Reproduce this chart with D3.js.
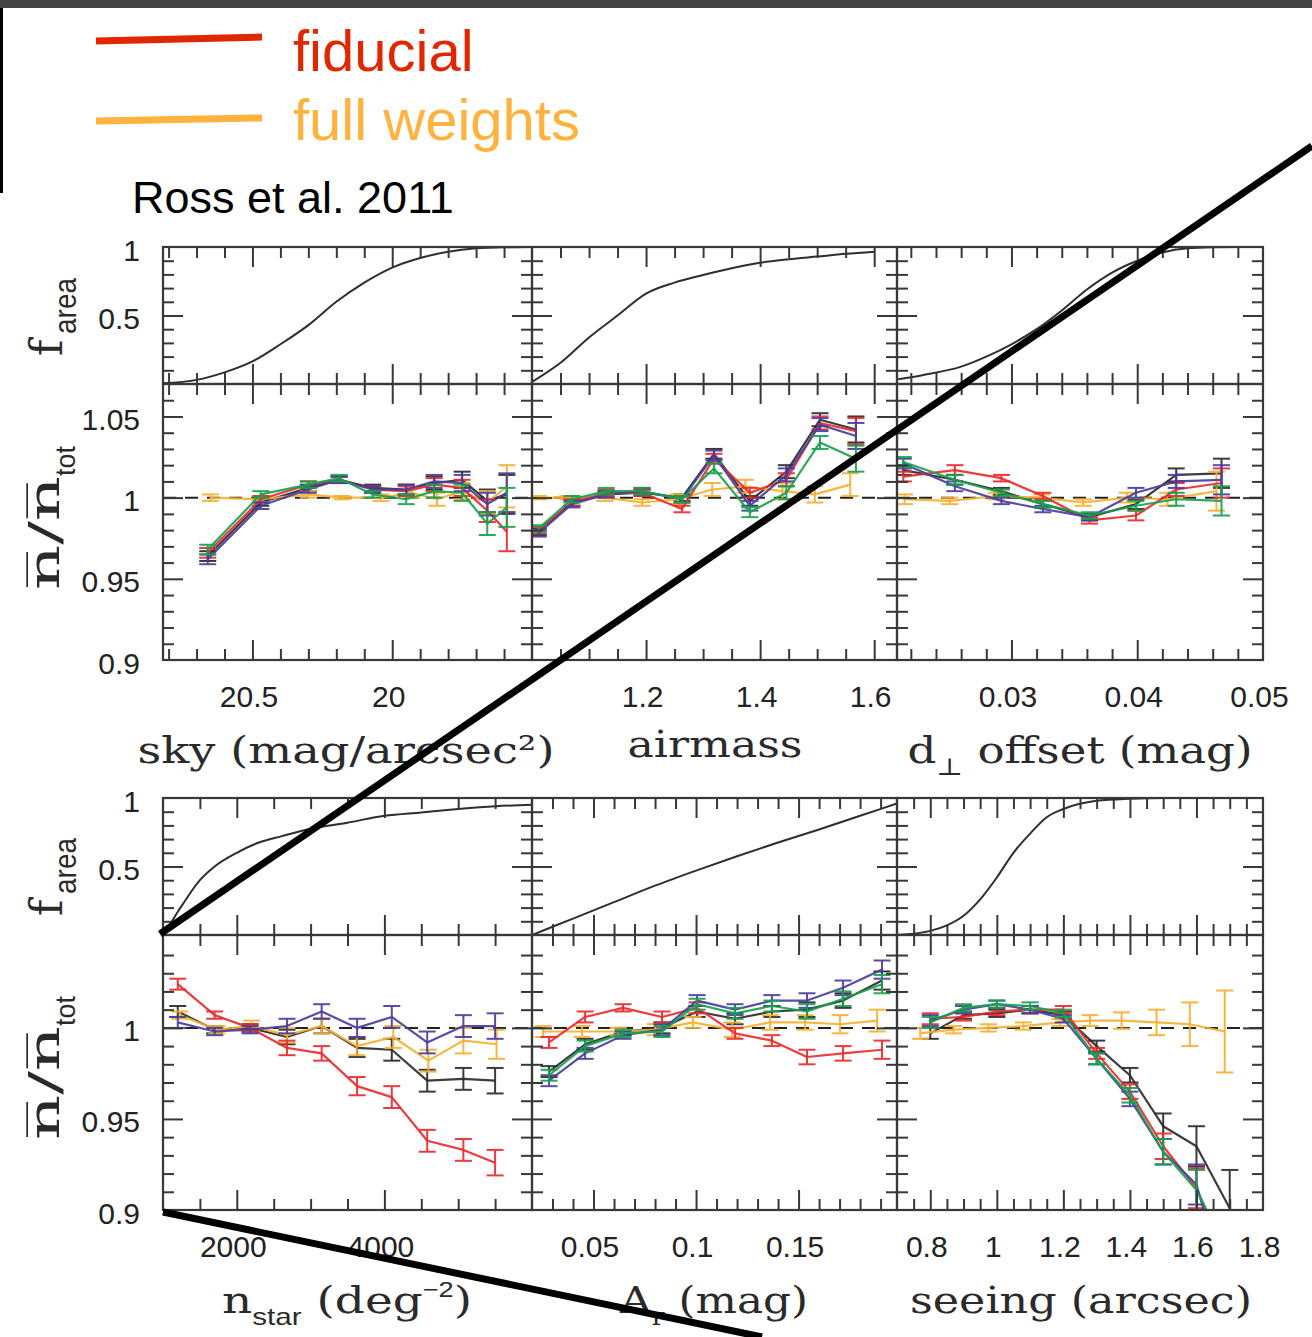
<!DOCTYPE html>
<html>
<head>
<meta charset="utf-8">
<script src="https://cdn.jsdelivr.net/npm/d3@7"></script>
<style>
  body { margin: 0; background: #fff; }
  svg { display: block; }
</style>
</head>
<body>
<svg id="chart" width="1312" height="1337"></svg>
<script>
// ---------------- data ----------------
// sky brightness (mag/arcsec^2)
const skyAreaX = [20.82, 20.7, 20.6, 20.5, 20.4, 20.3, 20.2, 20.1, 20.0, 19.9, 19.8, 19.7, 19.6, 19.5];
const skyAreaF = [0.005, 0.03, 0.085, 0.165, 0.29, 0.43, 0.6, 0.74, 0.85, 0.92, 0.965, 0.99, 0.998, 1.0];
const skyBins  = [20.66, 20.47, 20.3, 20.19, 20.07, 19.95, 19.85, 19.75, 19.66, 19.59];
const skyBlack = [0.964, 0.997, 1.006, 1.011, 1.006, 1.005, 1.009, 1.011, 0.998, 1.002];
const skyRed   = [0.966, 0.999, 1.008, 1.011, 1.005, 1.004, 1.008, 1.006, 0.992, 0.979];
const skyBlue  = [0.962, 0.995, 1.005, 1.011, 1.005, 1.005, 1.010, 1.009, 0.996, 1.003];
const skyGreen = [0.968, 1.002, 1.008, 1.012, 1.002, 0.999, 1.004, 1.003, 0.984, 0.994];
const skyErr   = [0.003, 0.002, 0.002, 0.002, 0.002, 0.003, 0.004, 0.005, 0.007, 0.012];
const skyBinsW = [20.65, 20.47, 20.3, 20.18, 20.04, 19.93, 19.84, 19.75, 19.66, 19.59];
const skyOrange = [1.000, 0.999, 1.002, 1.000, 1.000, 1.003, 0.999, 1.004, 0.997, 1.007];
const skyErrW  = [0.002, 0.002, 0.002, 0.001, 0.002, 0.003, 0.004, 0.005, 0.007, 0.013];

// airmass
const airAreaX = [1.0, 1.05, 1.1, 1.15, 1.2, 1.25, 1.3, 1.35, 1.4, 1.45, 1.5, 1.55, 1.6];
const airAreaF = [0.015, 0.155, 0.34, 0.5, 0.66, 0.74, 0.795, 0.845, 0.885, 0.91, 0.93, 0.95, 0.966];
const airBins  = [1.011, 1.07, 1.13, 1.193, 1.263, 1.319, 1.382, 1.446, 1.505, 1.568];
const airBlack = [0.979, 0.997, 1.002, 1.003, 1.000, 1.027, 0.998, 1.016, 1.048, 1.042];
const airRed   = [0.980, 0.997, 1.003, 1.003, 0.993, 1.024, 1.003, 1.011, 1.046, 1.041];
const airBlue  = [0.978, 0.996, 1.002, 1.004, 0.999, 1.026, 0.995, 1.014, 1.045, 1.038];
const airGreen = [0.981, 0.999, 1.004, 1.004, 0.999, 1.018, 0.991, 1.003, 1.034, 1.024];
const airErr   = [0.002, 0.002, 0.002, 0.002, 0.002, 0.003, 0.003, 0.004, 0.004, 0.008];
const airBinsW = [1.011, 1.063, 1.128, 1.193, 1.256, 1.316, 1.374, 1.439, 1.496, 1.558];
const airOrange = [1.000, 1.000, 1.000, 0.997, 0.999, 1.005, 1.007, 1.004, 1.002, 1.008];
const airErrW  = [0.001, 0.001, 0.002, 0.002, 0.003, 0.004, 0.004, 0.005, 0.005, 0.007];

// d_perp offset (mag)
const dpAreaX = [0.021, 0.023, 0.026, 0.028, 0.03, 0.032, 0.034, 0.036, 0.038, 0.04, 0.042, 0.044, 0.046, 0.048, 0.05];
const dpAreaF = [0.034, 0.066, 0.127, 0.2, 0.29, 0.4, 0.537, 0.69, 0.813, 0.9, 0.96, 0.99, 0.998, 1.0, 1.0];
const dpBins  = [0.0214, 0.0255, 0.0292, 0.0325, 0.0362, 0.0399, 0.0431, 0.0467];
const dpBlack = [1.017, 1.011, 1.004, 0.996, 0.988, 0.996, 1.014, 1.015];
const dpRed   = [1.013, 1.017, 1.012, 1.001, 0.986, 0.989, 1.005, 1.009];
const dpBlue  = [1.021, 1.007, 0.998, 0.993, 0.988, 1.003, 1.010, 1.011];
const dpGreen = [1.022, 1.011, 1.003, 0.996, 0.989, 0.995, 0.999, 0.998];
const dpErr   = [0.003, 0.003, 0.002, 0.002, 0.002, 0.003, 0.004, 0.009];
const dpBinsW = [0.0215, 0.0251, 0.0288, 0.0324, 0.0357, 0.0392, 0.0424, 0.0463];
const dpOrange = [0.999, 0.998, 1.001, 1.000, 0.997, 1.000, 0.999, 1.004];
const dpErrW  = [0.003, 0.002, 0.002, 0.002, 0.002, 0.003, 0.004, 0.012];

// stellar density (deg^-2)
const nsAreaX = [1000, 1100, 1200, 1300, 1400, 1500, 1700, 2000, 2300, 2600, 3000, 3500, 4000, 4500, 5000, 5500, 6000];
const nsAreaF = [0.0, 0.08, 0.17, 0.25, 0.33, 0.40, 0.50, 0.60, 0.675, 0.72, 0.775, 0.82, 0.87, 0.895, 0.92, 0.94, 0.95];
const nsBins  = [1200, 1700, 2180, 2680, 3150, 3630, 4100, 4580, 5070, 5500];
const nsBlack = [1.009, 0.999, 1.000, 0.995, 1.001, 0.989, 0.988, 0.971, 0.972, 0.971];
const nsRed   = [1.024, 1.007, 1.000, 0.989, 0.986, 0.968, 0.962, 0.938, 0.933, 0.926];
const nsBlue  = [1.003, 0.998, 0.999, 1.001, 1.009, 1.000, 1.006, 0.992, 1.001, 1.001];
const nsGreen = null;
const nsErr   = [0.003, 0.002, 0.002, 0.004, 0.004, 0.005, 0.006, 0.006, 0.006, 0.007];
const nsBinsW = [1230, 1730, 2200, 2680, 3150, 3625, 4120, 4595, 5070, 5520];
const nsOrange = [1.007, 0.999, 1.001, 0.996, 1.001, 0.990, 0.995, 0.982, 0.993, 0.991];
const nsErrW  = [0.002, 0.002, 0.003, 0.004, 0.004, 0.005, 0.006, 0.006, 0.007, 0.008];

// extinction A_r (mag)
const arAreaX = [0.02, 0.04, 0.06, 0.08, 0.1, 0.12, 0.14, 0.16, 0.18, 0.198];
const arAreaF = [0.0, 0.12, 0.24, 0.36, 0.47, 0.575, 0.675, 0.77, 0.87, 0.96];
const arBins  = [0.0283, 0.0459, 0.0644, 0.0834, 0.1005, 0.119, 0.137, 0.1541, 0.1717, 0.1907];
const arBlack = [0.976, 0.991, 0.998, 1.000, 1.009, 1.005, 1.009, 1.010, 1.015, 1.026];
const arRed   = [0.992, 1.006, 1.011, 1.006, 1.011, 0.997, 0.993, 0.984, 0.986, 0.988];
const arBlue  = [0.971, 0.986, 0.996, 0.999, 1.015, 1.010, 1.015, 1.015, 1.022, 1.032];
const arGreen = [0.974, 0.990, 0.997, 0.998, 1.013, 1.008, 1.012, 1.009, 1.016, 1.024];
const arErr   = [0.003, 0.003, 0.002, 0.003, 0.003, 0.003, 0.003, 0.004, 0.004, 0.005];
const arBinsW = [0.0254, 0.0444, 0.062, 0.080, 0.0985, 0.1176, 0.1361, 0.1532, 0.1702, 0.1883];
const arOrange = [0.998, 0.998, 0.998, 0.999, 1.003, 0.999, 1.003, 1.003, 1.002, 1.004];
const arErrW  = [0.003, 0.003, 0.002, 0.003, 0.003, 0.004, 0.004, 0.004, 0.005, 0.006];

// seeing (arcsec)
const seAreaX = [0.7, 0.8, 0.85, 0.9, 0.95, 1.0, 1.05, 1.1, 1.15, 1.2, 1.3, 1.4, 1.5, 1.8];
const seAreaF = [0.0, 0.03, 0.07, 0.14, 0.26, 0.42, 0.6, 0.74, 0.86, 0.92, 0.98, 0.995, 1.0, 1.0];
const seBins  = [0.8, 0.9, 1.0, 1.1, 1.2, 1.3, 1.4, 1.5, 1.6, 1.7];
const seBlack = [0.997, 1.007, 1.008, 1.010, 1.007, 0.990, 0.974, 0.946, 0.935, 0.901];
const seRed   = [1.005, 1.006, 1.009, 1.010, 1.010, 0.986, 0.965, 0.935, 0.912, 0.870];
const seBlue  = [1.004, 1.010, 1.013, 1.010, 1.005, 0.983, 0.961, 0.932, 0.914, 0.850];
const seGreen = [1.003, 1.011, 1.013, 1.012, 1.008, 0.983, 0.963, 0.932, 0.911, 0.875];
const seErr   = [0.003, 0.002, 0.002, 0.002, 0.002, 0.003, 0.004, 0.007, 0.011, 0.021];
const seBinsW = [0.77, 0.87, 0.975, 1.08, 1.19, 1.28, 1.375, 1.48, 1.58, 1.685];
const seOrange = [0.997, 0.999, 1.000, 1.001, 1.003, 1.004, 1.004, 1.003, 1.002, 0.998];
const seErrW  = [0.003, 0.002, 0.002, 0.002, 0.002, 0.003, 0.0045, 0.007, 0.012, 0.0225];

// axis tick labels
const skyLabels = [20.5, 20];
const airLabels = [1.2, 1.4, 1.6];
const dpLabels  = [0.03, 0.04, 0.05];
const nsLabels  = [2000, 4000];
const arLabels  = [0.05, 0.1, 0.15];
const seLabels  = [0.8, 1, 1.2, 1.4, 1.6, 1.8];
const areaLabels = [0.5, 1];
const ratioLabelsTop = [0.9, 0.95, 1, 1.05];
const ratioLabelsBottom = [0.9, 0.95, 1];

// ---------------- layout & style ----------------
const SANS = '"Liberation Sans", Arial, Helvetica, sans-serif';
const SERIF = '"DejaVu Serif", "Liberation Serif", serif';
const INK = '#383838';
const COLORS = { black: '#2b2b2b', red: '#ec2a2e', blue: '#4a3d9f', green: '#17a24c', orange: '#f6b030' };
const TICK_FONT = 30;

const colX = [[163, 532], [532, 897], [897, 1263]];
const blocks = [
  { top: 247, mid: 384, bot: 660, ratioDomain: [0.9, 1.07], ratioMajor: [0.95, 1, 1.05], ratioLabels: ratioLabelsTop },
  { top: 798, mid: 935, bot: 1210, ratioDomain: [0.9, 1.051], ratioMajor: [0.95, 1], ratioLabels: ratioLabelsBottom }
];

const panels = [
  { row: 0, col: 0, domain: [20.82, 19.5], major: [20.5, 20], minorStep: 0.1, labels: skyLabels,
    areaX: skyAreaX, areaF: skyAreaF, bins: skyBins, black: skyBlack, red: skyRed, blue: skyBlue, green: skyGreen,
    err: skyErr, binsW: skyBinsW, orange: skyOrange, errW: skyErrW },
  { row: 0, col: 1, domain: [1.0, 1.64], major: [1.2, 1.4, 1.6], minorStep: 0.05, labels: airLabels,
    areaX: airAreaX, areaF: airAreaF, bins: airBins, black: airBlack, red: airRed, blue: airBlue, green: airGreen,
    err: airErr, binsW: airBinsW, orange: airOrange, errW: airErrW },
  { row: 0, col: 2, domain: [0.0209, 0.05], major: [0.03, 0.04], minorStep: 0.002, labels: dpLabels,
    areaX: dpAreaX, areaF: dpAreaF, bins: dpBins, black: dpBlack, red: dpRed, blue: dpBlue, green: dpGreen,
    err: dpErr, binsW: dpBinsW, orange: dpOrange, errW: dpErrW },
  { row: 1, col: 0, domain: [1000, 6000], major: [2000, 4000], minorStep: 500, labels: nsLabels,
    areaX: nsAreaX, areaF: nsAreaF, bins: nsBins, black: nsBlack, red: nsRed, blue: nsBlue, green: nsGreen,
    err: nsErr, binsW: nsBinsW, orange: nsOrange, errW: nsErrW },
  { row: 1, col: 1, domain: [0.02, 0.198], major: [0.05, 0.1, 0.15], minorStep: 0.01, labels: arLabels,
    areaX: arAreaX, areaF: arAreaF, bins: arBins, black: arBlack, red: arRed, blue: arBlue, green: arGreen,
    err: arErr, binsW: arBinsW, orange: arOrange, errW: arErrW },
  { row: 1, col: 2, domain: [0.7, 1.8], major: [0.8, 1, 1.2, 1.4, 1.6], minorStep: 0.05, labels: seLabels,
    areaX: seAreaX, areaF: seAreaF, bins: seBins, black: seBlack, red: seRed, blue: seBlue, green: seGreen,
    err: seErr, binsW: seBinsW, orange: seOrange, errW: seErrW }
];

const fmt = d => String(+(+d).toFixed(4));

// ---------------- drawing ----------------
const svg = d3.select('#chart');
svg.append('rect').attr('width', 1312).attr('height', 1337).attr('fill', '#fff');
svg.append('rect').attr('x', 0).attr('y', 0).attr('width', 1312).attr('height', 8).attr('fill', '#444');
svg.append('rect').attr('x', 0).attr('y', 8).attr('width', 3).attr('height', 185).attr('fill', '#000');

// legend
const legend = svg.append('g');
legend.append('line').attr('x1', 96).attr('y1', 41).attr('x2', 262).attr('y2', 37)
  .attr('stroke', '#e22600').attr('stroke-width', 7);
legend.append('line').attr('x1', 96).attr('y1', 121).attr('x2', 262).attr('y2', 118)
  .attr('stroke', '#ffb23e').attr('stroke-width', 7);
legend.append('text').attr('x', 293).attr('y', 71).attr('font-family', SANS).attr('font-size', 58)
  .attr('fill', '#e22600').text('fiducial');
legend.append('text').attr('x', 293).attr('y', 140).attr('font-family', SANS).attr('font-size', 58)
  .attr('fill', '#ffb23e').text('full weights');
legend.append('text').attr('x', 132).attr('y', 213).attr('font-family', SANS).attr('font-size', 45)
  .attr('fill', '#000').text('Ross et al. 2011');

function valuesBetween(domain, step, exclude) {
  const [a, b] = d3.extent(domain);
  const out = [];
  for (let k = Math.ceil(a / step - 1e-6); k * step <= b + 1e-9; k++) {
    const v = +(k * step).toFixed(6);
    if (v > a + 1e-9 && v < b - 1e-9 && !exclude.some(e => Math.abs(e - v) < step / 10)) out.push(v);
  }
  return out;
}

function ticks(g, axisFn, scale, vals, len, tx, ty) {
  g.append('g').attr('transform', `translate(${tx},${ty})`)
    .call(axisFn(scale).tickValues(vals).tickSize(-len).tickSizeOuter(0).tickFormat(() => ''))
    .call(a => a.select('.domain').remove())
    .call(a => a.selectAll('line').attr('stroke', INK).attr('stroke-width', 2));
}

function drawSeries(g, x, y, xs, vs, es, color) {
  const pts = xs.map((b, i) => ({ x: b, v: vs[i], e: es[i] }));
  g.append('path').datum(pts)
    .attr('d', d3.line().x(d => x(d.x)).y(d => y(d.v)))
    .attr('fill', 'none').attr('stroke', color).attr('stroke-width', 2.2)
    .attr('stroke-linejoin', 'round').attr('opacity', 0.92);
  const eb = g.append('g').attr('stroke', color).attr('stroke-width', 2).attr('opacity', 0.92);
  pts.forEach(d => {
    const cx = x(d.x), lo = y(d.v - d.e), hi = y(d.v + d.e);
    eb.append('line').attr('x1', cx).attr('x2', cx).attr('y1', lo).attr('y2', hi);
    eb.append('line').attr('x1', cx - 8.5).attr('x2', cx + 8.5).attr('y1', lo).attr('y2', lo);
    eb.append('line').attr('x1', cx - 8.5).attr('x2', cx + 8.5).attr('y1', hi).attr('y2', hi);
  });
}

panels.forEach((p, idx) => {
  const [x0, x1] = colX[p.col];
  const B = blocks[p.row];
  const x = d3.scaleLinear().domain(p.domain).range([x0, x1]);
  const yA = d3.scaleLinear().domain([0, 1]).range([B.mid, B.top]);
  const yR = d3.scaleLinear().domain(B.ratioDomain).range([B.bot, B.mid]);
  const g = svg.append('g');

  const clipA = `clipA${idx}`, clipR = `clipR${idx}`;
  const defs = svg.append('defs');
  defs.append('clipPath').attr('id', clipA).append('rect')
    .attr('x', x0).attr('y', B.top).attr('width', x1 - x0).attr('height', B.mid - B.top);
  defs.append('clipPath').attr('id', clipR).append('rect')
    .attr('x', x0).attr('y', B.mid).attr('width', x1 - x0).attr('height', B.bot - B.mid);

  // cumulative area fraction
  const area = p.areaX.map((v, i) => ({ x: v, f: p.areaF[i] }));
  g.append('path').datum(area).attr('clip-path', `url(#${clipA})`)
    .attr('d', d3.line().x(d => x(d.x)).y(d => yA(d.f)).curve(d3.curveMonotoneX))
    .attr('fill', 'none').attr('stroke', '#2e2e2e').attr('stroke-width', 2);

  // unity reference
  const gr = g.append('g').attr('clip-path', `url(#${clipR})`);
  gr.append('line').attr('x1', x0).attr('x2', x1).attr('y1', yR(1)).attr('y2', yR(1))
    .attr('stroke', '#222').attr('stroke-width', 2).attr('stroke-dasharray', '13,9');

  drawSeries(gr, x, yR, p.bins, p.black, p.err, COLORS.black);
  drawSeries(gr, x, yR, p.binsW, p.orange, p.errW, COLORS.orange);
  drawSeries(gr, x, yR, p.bins, p.red, p.err, COLORS.red);
  drawSeries(gr, x, yR, p.bins, p.blue, p.err, COLORS.blue);
  if (p.green) drawSeries(gr, x, yR, p.bins, p.green, p.err, COLORS.green);

  // ticks
  const xMajor = p.major;
  const xMinor = valuesBetween(p.domain, p.minorStep, xMajor);
  [[B.top, B.mid], [B.mid, B.bot]].forEach(([t, b]) => {
    ticks(g, d3.axisBottom, x, xMinor, 11, 0, b);
    ticks(g, d3.axisBottom, x, xMajor, 20, 0, b);
    ticks(g, d3.axisTop, x, xMinor, 11, 0, t);
    ticks(g, d3.axisTop, x, xMajor, 20, 0, t);
  });
  const aMinor = valuesBetween([0, 1], 0.1, [0.5]);
  const rMinor = valuesBetween(B.ratioDomain, 0.01, B.ratioMajor).filter(v => v < 1.045 || p.row === 0);
  ticks(g, d3.axisLeft, yA, aMinor, 11, x0, 0);
  ticks(g, d3.axisLeft, yA, [0.5], 20, x0, 0);
  ticks(g, d3.axisRight, yA, aMinor, 11, x1, 0);
  ticks(g, d3.axisRight, yA, [0.5], 20, x1, 0);
  ticks(g, d3.axisLeft, yR, rMinor, 11, x0, 0);
  ticks(g, d3.axisLeft, yR, B.ratioMajor, 20, x0, 0);
  ticks(g, d3.axisRight, yR, rMinor, 11, x1, 0);
  ticks(g, d3.axisRight, yR, B.ratioMajor, 20, x1, 0);

  // frames
  [[B.top, B.mid], [B.mid, B.bot]].forEach(([t, b]) => {
    g.append('rect').attr('x', x0).attr('y', t).attr('width', x1 - x0).attr('height', b - t)
      .attr('fill', 'none').attr('stroke', INK).attr('stroke-width', 2.2);
  });

  // x tick labels
  g.append('g').attr('transform', `translate(-4,${B.bot})`)
    .call(d3.axisBottom(x).tickValues(p.labels).tickFormat(fmt).tickSize(0).tickPadding(0))
    .call(a => a.select('.domain').remove())
    .call(a => a.selectAll('text').attr('dy', null).attr('y', 47)
      .attr('font-family', SANS).attr('font-size', TICK_FONT).attr('fill', '#222'));

  // y tick labels on the left column
  if (p.col === 0) {
    [[yA, areaLabels], [yR, B.ratioLabels]].forEach(([ys, labs]) => {
      g.append('g').attr('transform', 'translate(140,0)')
        .call(d3.axisLeft(ys).tickValues(labs).tickFormat(fmt).tickSize(0).tickPadding(0))
        .call(a => a.select('.domain').remove())
        .call(a => a.selectAll('text').attr('dy', null).attr('y', 13)
          .attr('font-family', SANS).attr('font-size', TICK_FONT).attr('fill', '#222'));
    });
  }
});

// ---------------- axis titles ----------------
function xTitle(parts, cx, baseline, len) {
  const t = svg.append('text').attr('x', cx).attr('y', baseline).attr('text-anchor', 'middle')
    .attr('font-family', SERIF).attr('font-size', 38).attr('fill', '#2a2a2a')
    .attr('textLength', len).attr('lengthAdjust', 'spacingAndGlyphs');
  parts.forEach(pt => {
    const s = t.append('tspan').text(pt.t);
    if (pt.size) s.attr('font-size', pt.size);
    if (pt.dy) s.attr('dy', pt.dy);
    if (pt.fam) s.attr('font-family', pt.fam);
  });
}
xTitle([{ t: 'sky (mag/arcsec²)' }], 346, 763, 417);
xTitle([{ t: 'airmass' }], 715, 757, 175);
xTitle([{ t: 'd' }, { t: '⊥', size: 24, dy: 12 }, { t: ' offset (mag)', dy: -12 }], 1080, 763, 345);
xTitle([{ t: 'n' }, { t: 'star', size: 24, dy: 12, fam: SANS }, { t: ' (deg', dy: -12 },
        { t: '−2', size: 22, dy: -16, fam: SANS }, { t: ')', dy: 16 }], 347, 1313, 250);
xTitle([{ t: 'A' }, { t: 'r', size: 24, dy: 12 }, { t: ' (mag)', dy: -12 }], 714, 1313, 188);
xTitle([{ t: 'seeing (arcsec)' }], 1081, 1313, 342);

function yTitles(dyArea, dyRatio) {
  svg.append('text').attr('transform', `translate(62,${356 + dyArea}) rotate(-90)`)
    .attr('font-family', SERIF).attr('font-size', 44).attr('fill', '#2a2a2a').text('f');
  svg.append('text').attr('transform', `translate(76,${334 + dyArea}) rotate(-90)`)
    .attr('font-family', SANS).attr('font-size', 32).attr('fill', '#2a2a2a')
    .attr('textLength', 56).attr('lengthAdjust', 'spacingAndGlyphs').text('area');
  svg.append('text').attr('transform', `translate(59,${590 + dyRatio}) rotate(-90)`)
    .attr('font-family', SERIF).attr('font-size', 42).attr('fill', '#2a2a2a')
    .attr('textLength', 114).attr('lengthAdjust', 'spacingAndGlyphs')
    .text('n\u0305/n\u0305');
  svg.append('text').attr('transform', `translate(75,${476 + dyRatio}) rotate(-90)`)
    .attr('font-family', SANS).attr('font-size', 28).attr('fill', '#2a2a2a')
    .attr('textLength', 30).attr('lengthAdjust', 'spacingAndGlyphs').text('tot');
}
yTitles(0, 0);
yTitles(560, 550);

// diagonal strokes over the figure
svg.append('line').attr('x1', 160).attr('y1', 934).attr('x2', 1312).attr('y2', 146)
  .attr('stroke', '#000').attr('stroke-width', 7);
svg.append('line').attr('x1', 163).attr('y1', 1212).attr('x2', 762).attr('y2', 1337)
  .attr('stroke', '#000').attr('stroke-width', 7);
</script>
</body>
</html>
